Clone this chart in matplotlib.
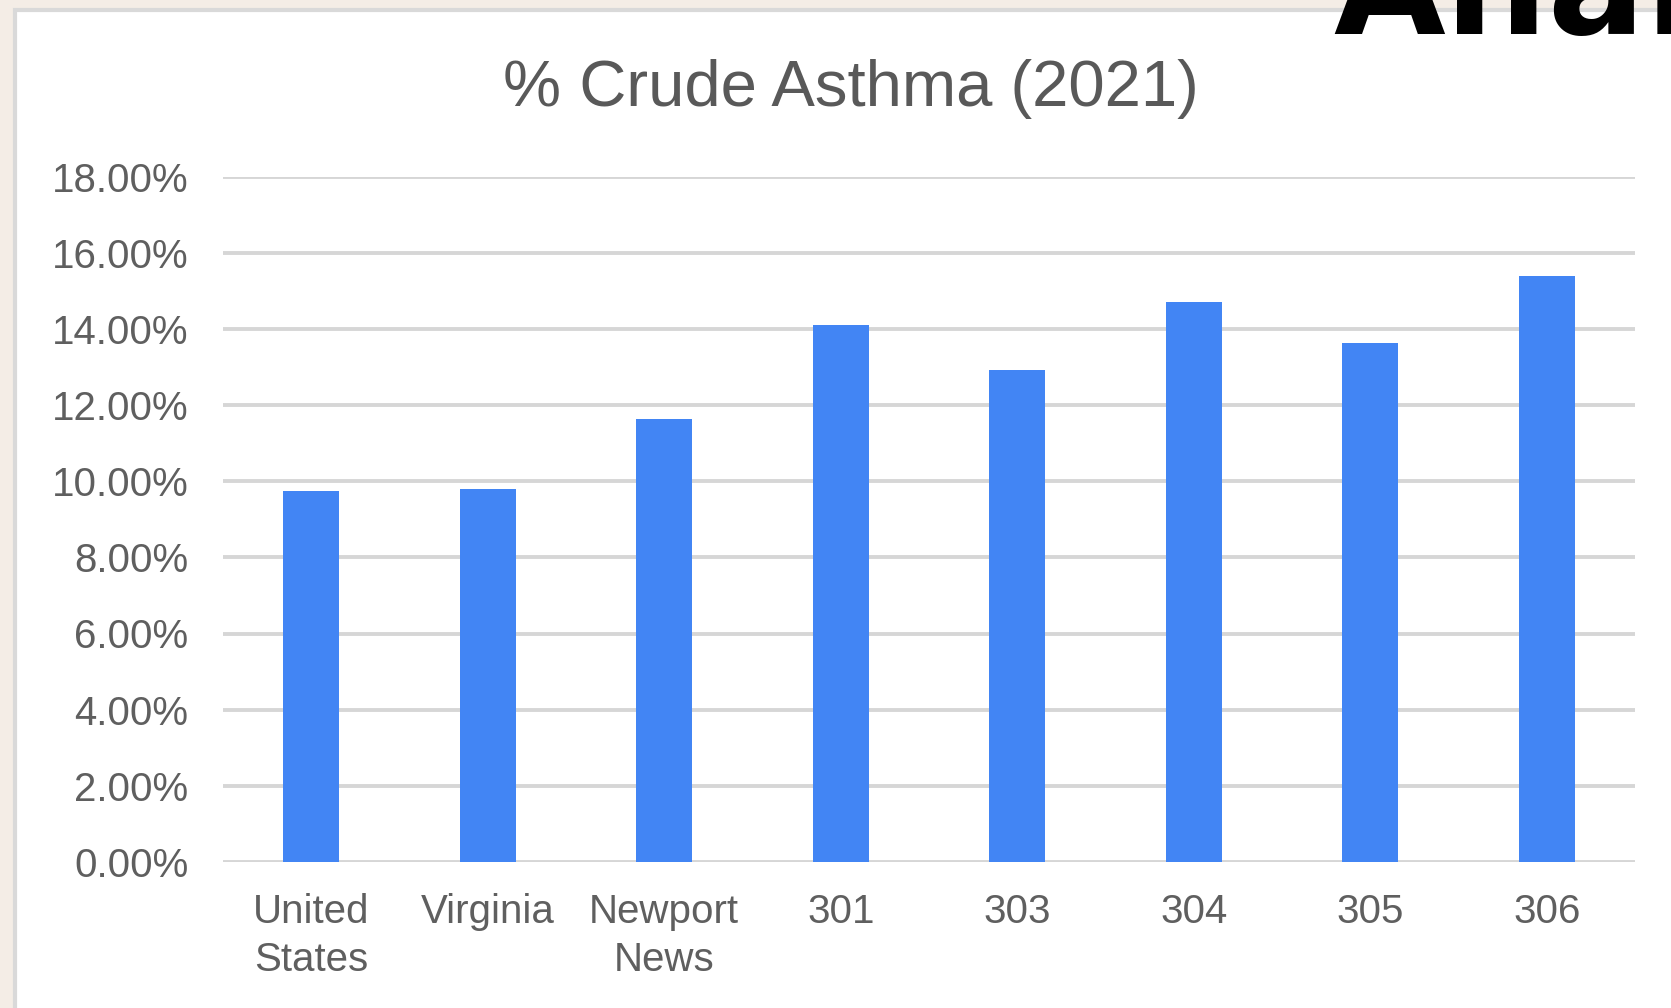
import matplotlib.pyplot as plt
import matplotlib.patches as mpatches

# data
categories = ["United\nStates", "Virginia", "Newport\nNews", "301", "303", "304", "305", "306"]
asthma = [9.74, 9.80, 11.62, 14.11, 12.91, 14.71, 13.62, 15.40]
yticks = [0, 2, 4, 6, 8, 10, 12, 14, 16, 18]

W, H = 1671, 1008
fig = plt.figure(figsize=(W / 100, H / 100), dpi=100)
fig.patch.set_facecolor("#f4ede6")
plt.rcParams["font.family"] = ["Liberation Sans", "DejaVu Sans"]

# white card behind the chart, runs off the right and bottom edges
card = mpatches.Rectangle((15 / W, -0.1), 1.1, (H - 10) / H + 0.1,
                          transform=fig.transFigure, facecolor="white",
                          edgecolor="#d9d9d9", linewidth=3, zorder=-5)
fig.patches.append(card)

# axes placed to match the reference pixel layout
left, right = 223 / W, 1635 / W
bottom, top = (H - 862) / H, (H - 176.5) / H
ax = fig.add_axes([left, bottom, right - left, top - bottom])
ax.set_zorder(1)
ax.set_facecolor("none")

x = range(len(categories))
ax.bar(x, asthma, width=0.317, color="#4285f4", zorder=3)

ax.set_xlim(-0.5, len(categories) - 0.5)
ax.set_ylim(0, 18)
ax.set_yticks(yticks)
ax.set_yticklabels(["{:.2f}%".format(v) for v in yticks])
ax.set_xticks(list(x))
ax.set_xticklabels(categories, linespacing=1.35)

for s in ax.spines.values():
    s.set_visible(False)
ax.yaxis.grid(True, color="#d6d6d6", linewidth=2.8, zorder=0)
ax.set_axisbelow(True)
ax.tick_params(axis="y", length=0, pad=25, labelsize=29, labelcolor="#5f5f5f")
ax.tick_params(axis="x", length=0, pad=22, labelsize=29, labelcolor="#5f5f5f")

# title
fig.text(851 / W, (H - 106) / H, "% Crude Asthma (2021)", ha="center",
         va="baseline", fontsize=47, color="#595959")

# heading of the slide, cut off at the top edge as in the reference
fig.text(1333 / W, (H - 34) / H, "Analysis", ha="left", va="baseline",
         fontsize=104, fontweight="heavy", color="black",
         family="DejaVu Sans")

fig.savefig("out.png", dpi=100, facecolor=fig.get_facecolor())
